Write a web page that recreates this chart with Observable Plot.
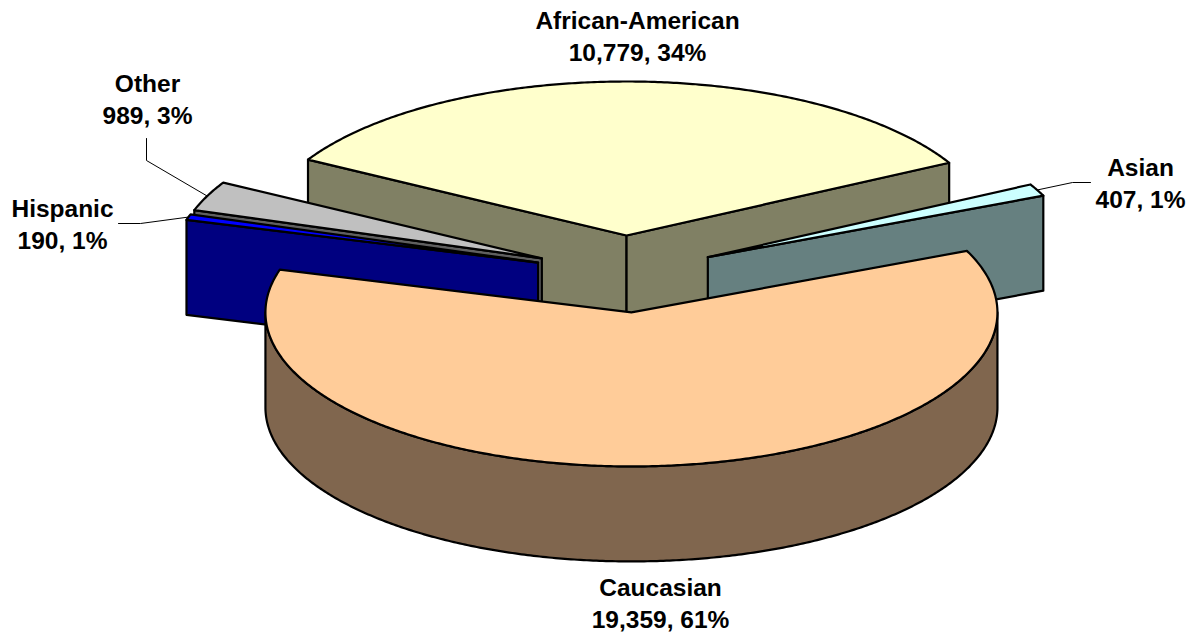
<!DOCTYPE html>
<html><head><meta charset="utf-8">
<script src="https://cdn.jsdelivr.net/npm/d3@7"></script>
<script src="https://cdn.jsdelivr.net/npm/@observablehq/plot@0.6"></script>
<style>body{margin:0;background:#fff;}</style>
</head><body><div id="chart"></div>
<script>
// ---- data ----
const categories = ["African-American", "Asian", "Caucasian", "Hispanic", "Other"];
const counts = [10779, 407, 19359, 190, 989];
const topColors = ["#FFFFCC", "#CCFFFF", "#FFCC99", "#0000FF", "#C0C0C0"];
const sideColors = ["#808064", "#668080", "#80664E", "#000080", "#606060"];

// ---- layout (not data) ----
const W = 1193, H = 637;
const geom = {cx: 625, cy: 273.5, rx: 366, ry: 154, depth: 95, explode: 0.25, startAngle: 299.5};
// label anchor: x center, y = baseline of the last line
const labelLayout = [
  {x: 637, y: 60}, {x: 1140, y: 207}, {x: 660, y: 627}, {x: 62, y: 248}, {x: 147, y: 123}
];
// leader line bends (from slice edge toward label)
const leaderLayout = [null, [[1072, 182], [1090, 182]], null, [[140, 223], [118, 223]], [[146, 160], [146, 138]]];

const total = d3.sum(counts);
const deg = Math.PI / 180;
let acc = geom.startAngle;
const slices = categories.map((c, i) => {
  const span = counts[i] / total * 360;
  const a0 = acc, a1 = acc + span; acc = a1;
  const mid = (a0 + a1) / 2;
  const ox = geom.cx + geom.explode * geom.rx * Math.sin(mid * deg);
  const oy = geom.cy - geom.explode * geom.ry * Math.cos(mid * deg);
  return {i, c, a0, a1, mid, ox, oy};
});
const P = (s, th, down = 0) => ({x: s.ox + geom.rx * Math.sin(th * deg), y: s.oy - geom.ry * Math.cos(th * deg) + down});
const apex = (s, down = 0) => ({x: s.ox, y: s.oy + down});
function arcPts(s, a, b, down = 0) {
  const n = Math.max(2, Math.ceil(Math.abs(b - a) / 0.5));
  return d3.range(n + 1).map(k => P(s, a + (b - a) * k / n, down));
}

const faceStyle = {x: "x", y: "y", stroke: "black", strokeWidth: 2.2, strokeLinejoin: "round", curve: "linear"};
const marks = [];
const order = [...slices].sort((p, q) => Math.cos(q.mid * deg) - Math.cos(p.mid * deg));
const D = geom.depth;
for (const s of order) {
  const side = sideColors[s.i], top = topColors[s.i];
  // start cut face
  if (Math.sin(s.a0 * deg) < 0) {
    const pts = [apex(s), P(s, s.a0), P(s, s.a0, D), apex(s, D), apex(s)];
    marks.push(Plot.line(pts, {...faceStyle, fill: side}));
  }
  // end cut face
  if (Math.sin(s.a1 * deg) > 0) {
    const pts = [apex(s), P(s, s.a1), P(s, s.a1, D), apex(s, D), apex(s)];
    marks.push(Plot.line(pts, {...faceStyle, fill: side}));
  }
  // curved outer side (front-facing part)
  for (let k = 0; k <= 1; k++) {
    const lo = Math.max(s.a0, 90 + 360 * k), hi = Math.min(s.a1, 270 + 360 * k);
    if (hi > lo) {
      const topArc = arcPts(s, lo, hi), botArc = arcPts(s, hi, lo, D);
      const pts = [...topArc, ...botArc, topArc[0]];
      marks.push(Plot.line(pts, {...faceStyle, fill: side}));
    }
  }
  // top face
  const pts = [apex(s), ...arcPts(s, s.a0, s.a1), apex(s)];
  marks.push(Plot.line(pts, {...faceStyle, fill: top}));
}

// leader lines
slices.forEach(s => {
  const bends = leaderLayout[s.i];
  if (!bends) return;
  const start = P(s, s.mid);
  const pts = [start, ...bends.map(([x, y]) => ({x, y}))];
  marks.push(Plot.line(pts, {x: "x", y: "y", stroke: "black", strokeWidth: 1, curve: "linear"}));
});

// labels
const fmt = d3.format(",");
const labels = slices.map(s => ({
  x: labelLayout[s.i].x, y: labelLayout[s.i].y,
  text: `${s.c}\n${fmt(counts[s.i])}, ${Math.round(counts[s.i] / total * 100)}%`
}));
marks.push(Plot.text(labels, {
  x: "x", y: "y", text: "text", textAnchor: "middle", lineAnchor: "bottom",
  lineHeight: 32 / 24.5, fontSize: 24.5, fontWeight: "bold",
  fontFamily: "'Liberation Sans', Arial, sans-serif", fill: "black"
}));

const chart = Plot.plot({
  width: W, height: H,
  marginTop: 0, marginRight: 0, marginBottom: 0, marginLeft: 0,
  x: {domain: [0, W], range: [0, W], axis: null},
  y: {domain: [0, H], range: [0, H], axis: null},
  style: {background: "white", overflow: "visible"},
  marks
});
document.getElementById("chart").appendChild(chart);
</script>
</body></html>
